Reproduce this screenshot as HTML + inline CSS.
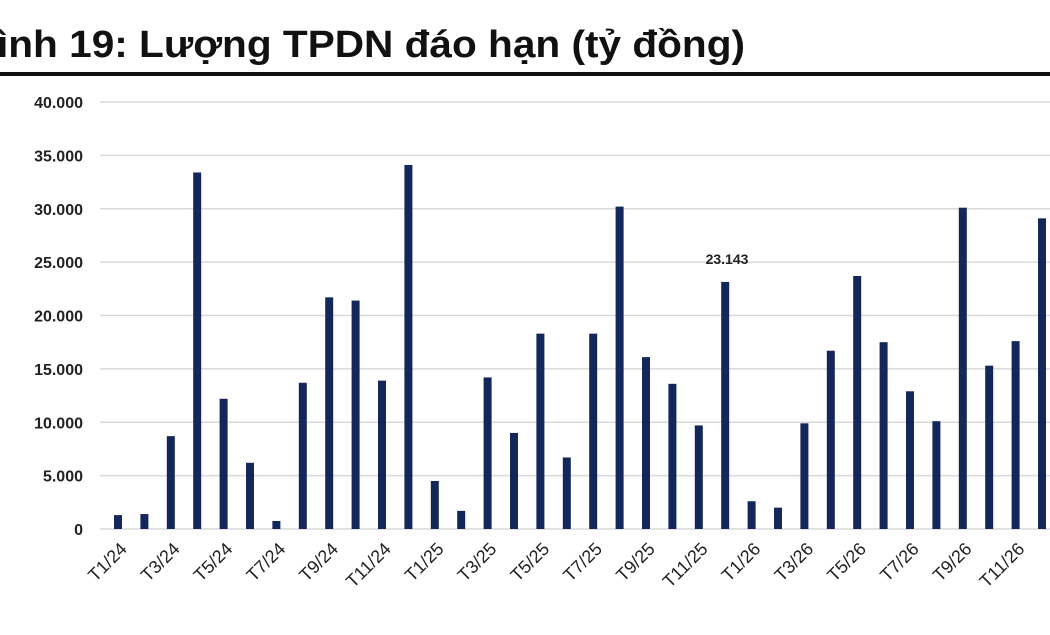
<!DOCTYPE html>
<html><head><meta charset="utf-8"><style>
body{margin:0;width:1050px;height:630px;background:#fff;overflow:hidden;font-family:"Liberation Sans",sans-serif}
</style></head><body>
<svg width="1050" height="630" xmlns="http://www.w3.org/2000/svg" font-family="Liberation Sans, sans-serif">
<text x="-3" y="57" font-size="38" font-weight="bold" fill="#111" textLength="748" lengthAdjust="spacingAndGlyphs">ình 19: Lượng TPDN đáo hạn (tỷ đồng)</text>
<rect x="0" y="72" width="1050" height="4" fill="#111"/>
<g id="grid"></g>
<g id="bars"></g>
<g id="lbl"></g>
<text x="727" y="264" font-size="14" font-weight="bold" text-anchor="middle" fill="#222">23.143</text>
</svg>
<script>
const ns="http://www.w3.org/2000/svg";
const g=document.getElementById('grid'),b=document.getElementById('bars'),l=document.getElementById('lbl');
const y0=529,k=427/40000;
function el(t,a,p,txt){const e=document.createElementNS(ns,t);for(const i in a)e.setAttribute(i,a[i]);if(txt)e.textContent=txt;p.appendChild(e);}
for(let i=0;i<=8;i++){const y=y0-i*5000*k;
 el('line',{x1:100,x2:1050,y1:y,y2:y,stroke:'#d9d9d9','stroke-width':1.5},g);
 el('text',{x:83,y:y+6,'font-size':16,'font-weight':'bold','text-anchor':'end',fill:'#222'},g,i==0?'0':(i*5)+'.000');}
const v=[1300,1400,8700,33400,12200,6200,750,13700,21700,21400,13900,34100,4500,1700,14200,9000,18300,6700,18300,30200,16100,13600,9700,23143,2600,2000,9900,16700,23700,17500,12900,10100,30100,15300,17600,29100];
v.forEach((d,i)=>{const x=118+i*26.4;
 el('rect',{x:x-4,y:y0-d*k,width:8,height:d*k,fill:'#14275a'},b);
 if(i%2==0){const m=(i%12)+1,yr=24+Math.floor(i/12);
  el('text',{x:x+10,y:550,'font-size':18,'text-anchor':'end',fill:'#222',transform:`rotate(-45 ${x+10} 550)`},l,'T'+m+'/'+yr);}
});
</script>
</body></html>
